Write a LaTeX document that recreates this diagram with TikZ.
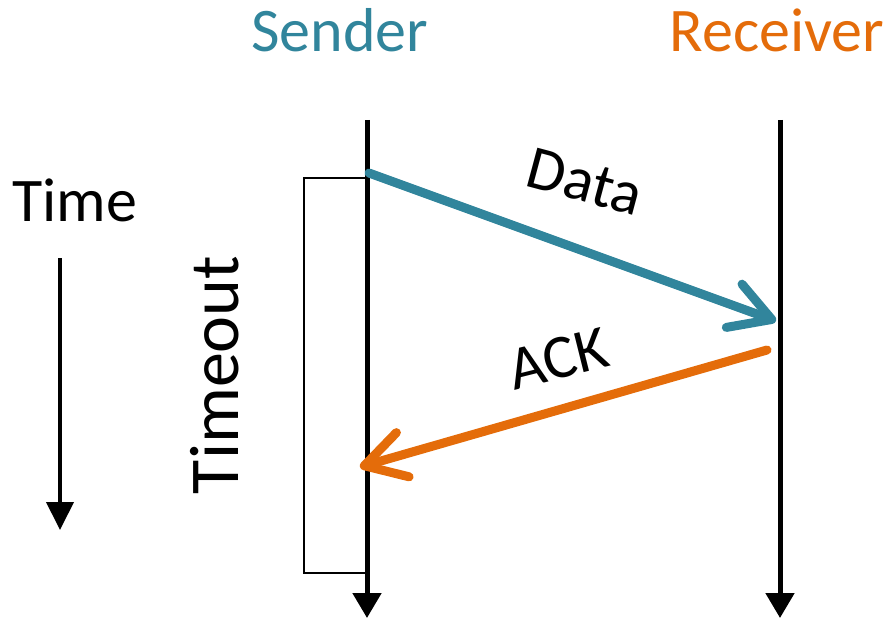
\documentclass[tikz,border=0pt]{standalone}
\usepackage{fontspec}
\setmainfont{Carlito}
\usetikzlibrary{arrows.meta}
\definecolor{sendcol}{HTML}{31859C}
\definecolor{recvcol}{HTML}{E46C0A}
\begin{document}
\begin{tikzpicture}[x=1pt, y=-1pt,
  lbl/.style={inner sep=0pt, anchor=base, font=\fontsize{62}{70}\selectfont},
  life/.style={line width=5pt, -{Triangle[length=25pt, width=28pt]}},
  msg/.style={line width=9pt, line cap=round,
    -{Straight Barb[length=40pt, width=46pt, line cap=round, line join=round]}}]
\useasboundingbox (0,0) rectangle (888,620);
\node[lbl, text=sendcol] (snd) at (340,52) {Sender};
\node[lbl, text=recvcol] (rcv) at (777,52) {Receiver};
\node[lbl] (time) at (75,222) {Time};
\node[lbl, rotate=90, font=\fontsize{70}{80}\selectfont] (tout) at (238,375) {Timeout};
\node[lbl, rotate=-15] (data) at (580,201) {Data};
\node[lbl, rotate=14] (ack) at (563,378) {ACK};
\node[draw, line width=2pt, inner sep=0pt, minimum width=63pt, minimum height=395pt] (timer) at (335.5,375.5) {};
\coordinate (s top) at (367,120);
\coordinate (s bot) at (367,618);
\coordinate (r top) at (780,120);
\coordinate (r bot) at (780,618);
\coordinate (t top) at (60,258);
\coordinate (t bot) at (60,530);
\coordinate (d from) at (369,173);
\coordinate (d to) at (776,321);
\coordinate (a from) at (767,350);
\coordinate (a to) at (360,467);
\draw[life] (s top) -- (s bot);
\draw[life] (r top) -- (r bot);
\draw[line width=4pt, -{Triangle[length=28pt, width=27pt]}] (t top) -- (t bot);
\draw[msg, draw=sendcol] (d from) -- (d to);
\draw[msg, draw=recvcol] (a from) -- (a to);
\end{tikzpicture}
\end{document}
